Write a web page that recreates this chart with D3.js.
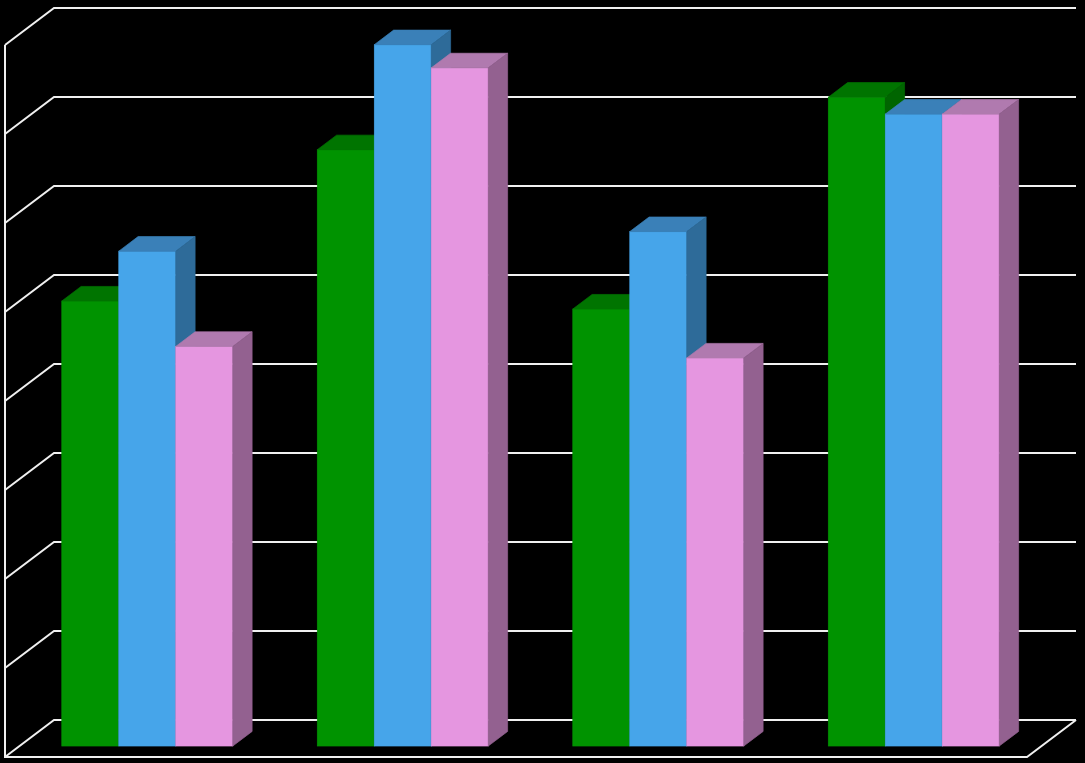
<!DOCTYPE html>
<html>
<head>
<meta charset="utf-8">
<script src="https://cdn.jsdelivr.net/npm/d3@7"></script>
<style>
  html, body { margin: 0; padding: 0; background: #000; }
  svg { display: block; }
</style>
</head>
<body>
<svg id="chart" width="1085" height="763"></svg>
<script>
// ---- Data ----
const categories = ["Group 1", "Group 2", "Group 3", "Group 4"];
const seriesNames = ["Series 1", "Series 2", "Series 3"];
const series1 = [50.0, 67.0, 49.1, 72.9];
const series2 = [55.6, 78.8, 57.8, 71.0];
const series3 = [44.9, 76.2, 43.6, 71.0];
const tickValues = [0, 10, 20, 30, 40, 50, 60, 70, 80];

(function () {
const seriesValues = [series1, series2, series3];
const frontColors = ["#009300", "#46a5ea", "#e596e0"];
const topColors   = ["#007400", "#3a80b8", "#b07aaf"];
const sideColors  = ["#006500", "#2e6b99", "#936190"];

// ---- Geometry ----
const svg = d3.select("#chart");
const W = 1085, H = 763;
svg.append("rect").attr("width", W).attr("height", H).attr("fill", "#000");

const plotLeft = 5, plotRight = 1027, plotBase = 757, plotTop = 45;
const depthX = 49, depthY = -37;       // floor depth vector
const barF0 = 0.297, barF1 = 0.691;    // bar depth position (fraction)

const y = d3.scaleLinear().domain([0, 80]).range([plotBase, plotTop]);
const x0 = d3.scaleBand().domain(categories).range([plotLeft, plotRight])
  .paddingInner(0.3307).paddingOuter(0.3307 / 2);
const x1 = d3.scaleBand().domain(seriesNames).range([0, x0.bandwidth()]).padding(0);

// ---- Walls / gridlines ----
const grid = svg.append("g").attr("fill", "none")
  .attr("stroke", "#f0f0f0").attr("stroke-width", 2)
  .attr("stroke-linejoin", "miter");

tickValues.forEach(v => {
  const yy = y(v);
  grid.append("path").attr("d",
    `M${plotLeft},${yy}L${plotLeft + depthX},${yy + depthY}L${1076},${yy + depthY}`);
});
grid.append("line").attr("x1", plotLeft).attr("y1", y(0) + 1)
  .attr("x2", plotLeft).attr("y2", y(80));
grid.append("path").attr("d",
  `M${plotLeft},${y(0)}L${plotRight},${y(0)}L${plotRight + depthX},${y(0) + depthY}`);

// ---- Bars ----
const bars = svg.append("g").attr("stroke-width", 0.7).attr("stroke-linejoin", "miter");
const ox0 = barF0 * depthX, oy0 = barF0 * depthY;
const ddx = (barF1 - barF0) * depthX, ddy = (barF1 - barF0) * depthY;

categories.forEach((cat, ci) => {
  seriesNames.forEach((sn, si) => {
    const v = seriesValues[si][ci];
    const xl = x0(cat) + x1(sn) + ox0;
    const xr = xl + x1.bandwidth();
    const yb = y(0) + oy0;
    const yt = y(v) + oy0;
    const g = bars.append("g");
    g.append("rect").attr("x", xl).attr("y", yt)
      .attr("width", xr - xl).attr("height", yb - yt)
      .attr("fill", frontColors[si]).attr("stroke", frontColors[si]);
    g.append("path").attr("d",
      `M${xl},${yt}L${xr},${yt}L${xr + ddx},${yt + ddy}L${xl + ddx},${yt + ddy}Z`)
      .attr("fill", topColors[si]).attr("stroke", topColors[si]);
    g.append("path").attr("d",
      `M${xr},${yt}L${xr + ddx},${yt + ddy}L${xr + ddx},${yb + ddy}L${xr},${yb}Z`)
      .attr("fill", sideColors[si]).attr("stroke", sideColors[si]);
  });
});
})();
</script>
</body>
</html>
